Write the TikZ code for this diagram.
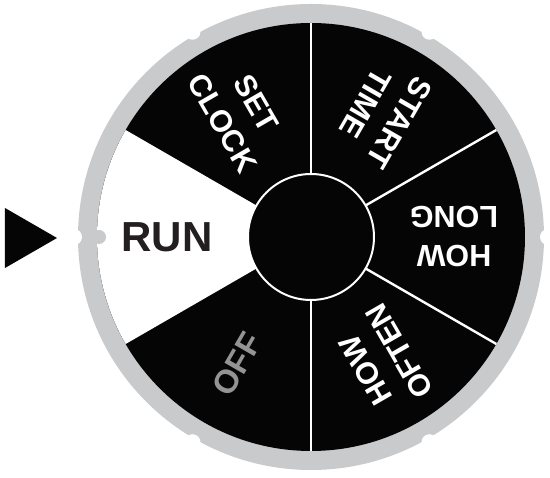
\documentclass[tikz,border=0pt]{standalone}
\usepackage{fontspec}
\setmainfont{Liberation Sans}
\usetikzlibrary{calc}
\definecolor{paper}{HTML}{FFFFFF}
\definecolor{rim}{HTML}{C9CACC}
\definecolor{face}{HTML}{050505}
\definecolor{runink}{HTML}{231F20}
\definecolor{offink}{HTML}{949494}
\newcommand{\RimOut}{233}
\newcommand{\RimIn}{214}
\newcommand{\HubR}{63}
\newcommand{\LabelR}{143}

\begin{document}
\begin{tikzpicture}[
    x=1pt, y=1pt,
    wedgelabel/.style={text=white, font=\fontsize{30.5}{39}\selectfont\bfseries, align=center, inner sep=0pt},
    divider/.style={draw=white, line width=2.4pt},
  ]
\useasboundingbox (-311,-241) rectangle (239,237);

% --- The rim: a grey ring with six small notches ------------------------------
\fill[rim] (0,0) circle (\RimOut);
\foreach \a in {0,60,...,300} {
  \fill[paper] (\a:237) circle (8);
}

% --- The face: black disc, the white RUN wedge, the dividers ------------------
\fill[face] (0,0) circle (\RimIn);
\fill[paper] (0,0) -- (150:\RimIn) arc (150:210:\RimIn) -- cycle;
\fill[rim] (180:212) circle (7);
\foreach \a in {30,90,-30,-90} {
  \draw[divider] (0,0) -- (\a:\RimIn);
}
\fill[face, draw=white, line width=2pt] (0,0) circle (\HubR);

% --- The settings, each read from the rim towards the hub ---------------------
\foreach \a/\txt/\name in {120/{SET\\CLOCK}/clock,
                           60/{START\\TIME}/start,
                           0/{HOW\\LONG}/long,
                           -60/{HOW\\OFTEN}/often} {
  \node[wedgelabel, rotate=\a-180] (\name) at (\a:\LabelR) {\txt};
}
\node[wedgelabel, text=offink, font=\fontsize{33}{33}\selectfont\bfseries, rotate=60] (off) at (240:147) {OFF};
\node[text=runink, font=\fontsize{42}{42}\selectfont\bfseries, inner sep=0pt] (run) at (180:144) {RUN};

% --- The pointer -------------------------------------------------------------
\fill[face] (-306,29) -- (-306,-31) -- (-254,-1) -- cycle;

\end{tikzpicture}
\end{document}
